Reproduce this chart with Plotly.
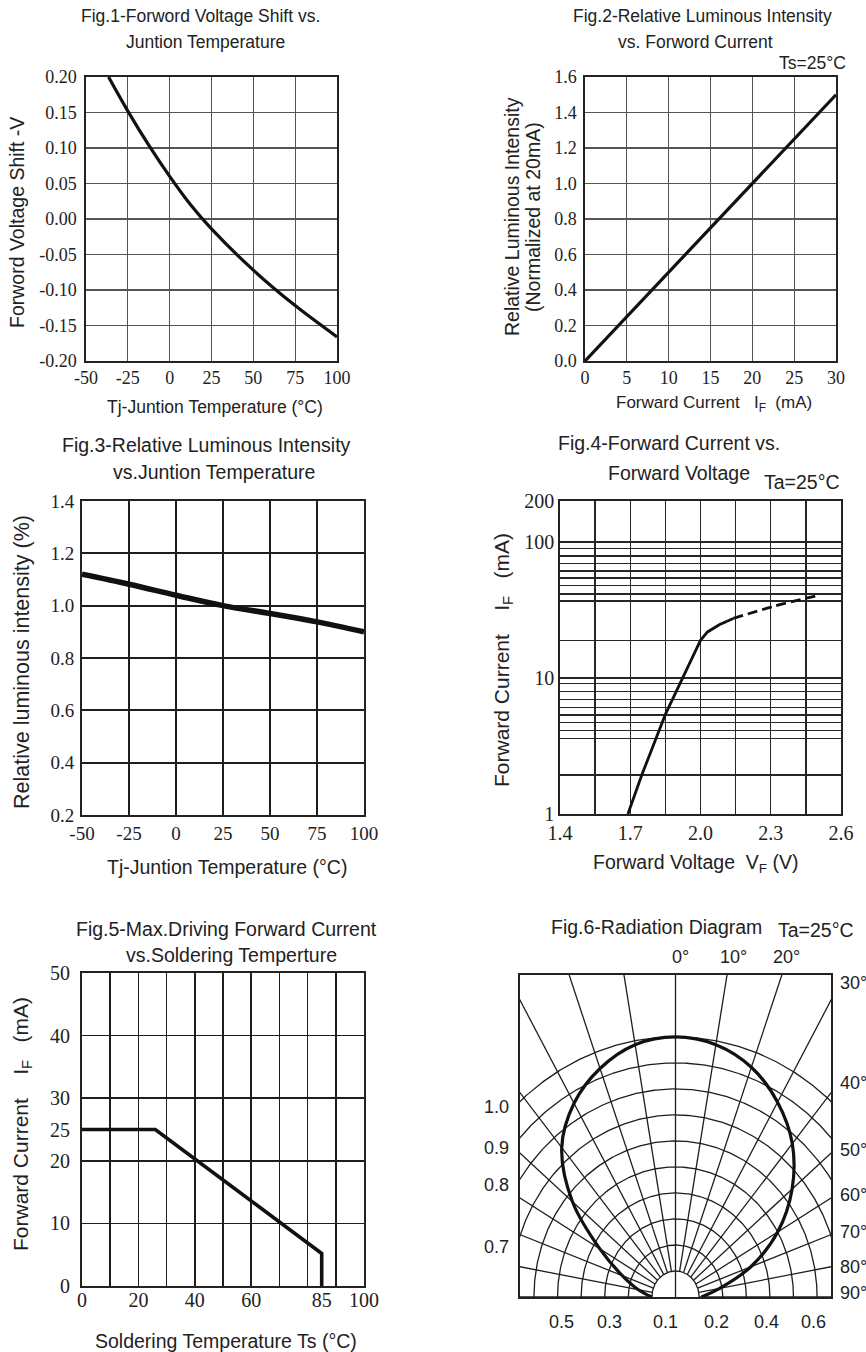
import numpy as np
import plotly.graph_objects as go

W, H = 866, 1352
SANS = "Liberation Sans, Arial, sans-serif"
SERIF = "Liberation Serif, Times New Roman, serif"
TXT = "#222222"
LINE = "#111111"

# ---------------- data ----------------
# Fig.1 forward voltage shift vs junction temperature
fig1_temp = [-36.5, -25, -12.5, 0, 12.5, 25, 50, 75, 100]
fig1_shift = [0.20, 0.152, 0.104, 0.06, 0.02, -0.014, -0.072, -0.122, -0.166]
fig1_xticks = [-50, -25, 0, 25, 50, 75, 100]
fig1_xtext = ["-50", "-25", "0", "25", "50", "75", "100"]
fig1_yticks = [0.20, 0.15, 0.10, 0.05, 0.00, -0.05, -0.10, -0.15, -0.20]
fig1_ytext = ["0.20", "0.15", "0.10", "0.05", "0.00", "-0.05", "-0.10", "-0.15", "-0.20"]

# Fig.2 relative luminous intensity vs forward current
fig2_current = [0, 30]
fig2_intensity = [0.0, 1.5]
fig2_xticks = [0, 5, 10, 15, 20, 25, 30]
fig2_yticks = [0.0, 0.2, 0.4, 0.6, 0.8, 1.0, 1.2, 1.4, 1.6]
fig2_ytext = ["0.0", "0.2", "0.4", "0.6", "0.8", "1.0", "1.2", "1.4", "1.6"]

# Fig.3 relative luminous intensity vs junction temperature
fig3_temp = [-50, -25, 0, 25, 50, 75, 100]
fig3_intensity = [1.12, 1.082, 1.04, 1.0, 0.97, 0.938, 0.90]
fig3_xticks = [-50, -25, 0, 25, 50, 75, 100]
fig3_xtext = ["-50", "-25", "0", "25", "50", "75", "100"]
fig3_yticks = [0.2, 0.4, 0.6, 0.8, 1.0, 1.2, 1.4]
fig3_ytext = ["0.2", "0.4", "0.6", "0.8", "1.0", "1.2", "1.4"]

# Fig.4 forward current vs forward voltage
fig4_v_solid = [1.69, 1.75, 1.85, 1.93, 1.975, 2.0, 2.03, 2.08, 2.14]
fig4_i_solid = [1.0, 1.95, 5.4, 10.5, 15.0, 18.9, 21.8, 24.6, 27.4]
fig4_v_dash = [2.14, 2.31, 2.49]
fig4_i_dash = [27.4, 33.5, 40.0]
fig4_xticks = [1.4, 1.7, 2.0, 2.3, 2.6]
fig4_xtext = ["1.4", "1.7", "2.0", "2.3", "2.6"]
fig4_xgrid_minor = [1.55, 1.85, 2.15, 2.45]
fig4_yticks = [1, 10, 100, 200]
fig4_ytext = ["1", "10", "100", "200"]
fig4_ygrid_minor = [1.93, 3.6, 4.13, 4.69, 5.33, 6.09, 6.93, 7.96, 9.14,
                    18.8, 36.7, 41.5, 47.7, 54.2, 61.2, 69.6, 78.7, 89.4]

# Fig.5 max driving forward current vs soldering temperature
fig5_temp = [0, 26, 85, 85]
fig5_current = [25, 25, 5.2, 0]
fig5_xticks = [0, 20, 40, 60, 85, 100]
fig5_xtext = ["0", "20", "40", "60", "85", "100"]
fig5_xgrid = [0, 10, 20, 30, 40, 50, 60, 70, 80, 90, 100]
fig5_yticks = [0, 10, 20, 25, 30, 40, 50]
fig5_ytext = ["0", "10", "20", "25", "30", "40", "50"]
fig5_ygrid = [0, 10, 20, 30, 40, 50]

# Fig.6 radiation diagram
fig6_angle = [-90, -80, -70, -60, -50, -40, -30, -20, -10, 0,
              10, 20, 30, 40, 50, 60, 70, 80, 90]
fig6_rel = [0.10, 0.16, 0.24, 0.37, 0.57, 0.75, 0.86, 0.935, 0.985, 1.0,
            0.985, 0.94, 0.865, 0.77, 0.645, 0.50, 0.34, 0.19, 0.11]
fig6_grid_radii = [0.1, 0.2, 0.3, 0.4, 0.5, 0.6, 0.7, 0.8, 0.9, 1.0]
fig6_grid_angles = [-90, -80, -70, -60, -50, -40, -30, -20, -10, 0,
                    10, 20, 30, 40, 50, 60, 70, 80, 90]
fig6_top_labels = ["0°", "10°", "20°"]
fig6_right_labels = ["30°", "40°", "50°", "60°", "70°", "80°", "90°"]
fig6_left_labels = ["1.0", "0.9", "0.8", "0.7"]
fig6_bottom_labels = ["0.5", "0.3", "0.1", "0.2", "0.4", "0.6"]

# ---------------- layout helpers ----------------
def dom(l, r, t, b):
    return [l / W, r / W], [1 - b / H, 1 - t / H]


def axis(domain, rng, anchor, tickvals=None, ticktext=None, size=18,
         grid=True, minor=None, typ="linear", labels=True, line=True,
         gcol="#3c3c3c", gw=1.2, lw=1.6, standoff=0):
    d = dict(domain=domain, range=rng, anchor=anchor, type=typ,
             automargin=False,
             showline=line, mirror=line, linecolor="#222222", linewidth=lw,
             ticks="", showgrid=grid, gridcolor=gcol, gridwidth=gw,
             zeroline=False, fixedrange=True, showticklabels=labels,
             ticklabelstandoff=standoff,
             tickfont=dict(family=SERIF, size=size, color=TXT))
    if tickvals is not None:
        d.update(tickmode="array", tickvals=tickvals)
        if ticktext is not None:
            d["ticktext"] = ticktext
    if minor is not None:
        d["minor"] = dict(tickmode="array", tickvals=minor, showgrid=True,
                          gridcolor=gcol, gridwidth=gw, ticks="")
    return d


annotations = []


def ann(text, px, py, size, xanchor="center", angle=0, family=SANS):
    annotations.append(dict(text=text, x=px / W, y=1 - py / H, xref="paper",
                            yref="paper", xanchor=xanchor, yanchor="middle",
                            showarrow=False, textangle=angle,
                            font=dict(family=family, size=size, color=TXT)))


NB = "\u00a0"
fig = go.Figure()
layout = dict(width=W, height=H, margin=dict(l=0, r=0, t=0, b=0, pad=0),
              paper_bgcolor="white", plot_bgcolor="rgba(0,0,0,0)",
              showlegend=False, autosize=False, template="none")

# ---- Fig.1 ----
xd, yd = dom(86, 337, 77, 361)
layout["xaxis"] = axis(xd, [-50, 100], "y", fig1_xticks, fig1_xtext, 18,
                       gcol="#555555")
layout["yaxis"] = axis(yd, [-0.2, 0.2], "x", fig1_yticks, fig1_ytext, 18,
                       gcol="#555555", standoff=4)
fig.add_trace(go.Scatter(x=fig1_temp, y=fig1_shift, mode="lines",
                         line=dict(color=LINE, width=3.2, shape="spline"),
                         xaxis="x", yaxis="y"))
ann("Fig.1-Forword Voltage Shift vs.", 200, 16, 17.5)
ann("Juntion Temperature", 205, 42, 17.5)
ann("Tj-Juntion Temperature (°C)", 215, 407, 17.5)
ann("Forword Voltage Shift -V", 17, 223, 19.5, angle=-90)

# ---- Fig.2 ----
xd, yd = dom(585, 836, 77, 361)
layout["xaxis2"] = axis(xd, [0, 30], "y2", fig2_xticks, None, 18,
                        gcol="#555555")
layout["yaxis2"] = axis(yd, [0, 1.6], "x2", fig2_yticks, fig2_ytext, 18,
                        gcol="#555555", standoff=3)
fig.add_trace(go.Scatter(x=fig2_current, y=fig2_intensity, mode="lines",
                         line=dict(color=LINE, width=3.2),
                         xaxis="x2", yaxis="y2"))
ann("Fig.2-Relative Luminous Intensity", 702, 16, 17.5)
ann("vs. Forword Current", 695, 42, 17.5)
ann("Ts=25°C", 812, 63, 17.5)
ann("Relative Luminous Intensity", 512, 217, 19.5, angle=-90)
ann("(Normalized at 20mA)", 533, 217, 19.5, angle=-90)
ann("Forward Current" + NB * 2 + " I<sub>F</sub>" + NB + " (mA)", 714, 404, 17)

# ---- Fig.3 ----
xd, yd = dom(82, 364, 501, 815)
layout["xaxis3"] = axis(xd, [-50, 100], "y3", fig3_xticks, fig3_xtext, 19,
                        gcol="#1e1e1e", gw=1.7, lw=2)
layout["yaxis3"] = axis(yd, [0.2, 1.4], "x3", fig3_yticks, fig3_ytext, 19,
                        gcol="#1e1e1e", gw=1.7, lw=2, standoff=2)
fig.add_trace(go.Scatter(x=fig3_temp, y=fig3_intensity, mode="lines",
                         line=dict(color=LINE, width=5.5, shape="spline"),
                         xaxis="x3", yaxis="y3"))
ann("Fig.3-Relative Luminous Intensity", 206, 445, 19.5)
ann("vs.Juntion Temperature", 214, 472, 19.5)
ann("Tj-Juntion Temperature (°C)", 227, 867, 19.5)
ann("Relative luminous intensity (%)", 22, 662, 21.5, angle=-90)

# ---- Fig.4 ----
xd, yd = dom(560, 841, 501, 814)
layout["xaxis4"] = axis(xd, [1.4, 2.6], "y4", fig4_xticks, fig4_xtext, 20,
                        minor=fig4_xgrid_minor, gcol="#262626", gw=1.4,
                        lw=1.8)
layout["yaxis4"] = axis(yd, [0, np.log10(200)], "x4", fig4_yticks,
                        fig4_ytext, 20, minor=fig4_ygrid_minor, typ="log",
                        gcol="#262626", gw=1.4, lw=1.8)
fig.add_trace(go.Scatter(x=fig4_v_solid, y=fig4_i_solid, mode="lines",
                         line=dict(color=LINE, width=2.8),
                         xaxis="x4", yaxis="y4"))
fig.add_trace(go.Scatter(x=fig4_v_dash, y=fig4_i_dash, mode="lines",
                         line=dict(color=LINE, width=2.8, dash="10px,5px",
                                   shape="spline"),
                         xaxis="x4", yaxis="y4"))
ann("Fig.4-Forward Current vs.", 669, 443, 19.5)
ann("Forward Voltage", 679, 473, 19.5)
ann("Ta=25°C", 802, 482, 19.5)
ann("Forward Voltage" + NB + " V<sub>F</sub> (V)", 696, 863, 19.5)
ann("Forward Current" + NB * 3 + " I<sub>F</sub>" + NB * 2 + " (mA)", 503, 660,
    21, angle=-90)

# ---- Fig.5 (grid subplot + stacked label subplot) ----
xd, yd = dom(82, 364, 973, 1286)
layout["xaxis5"] = axis(xd, [0, 100], "y5", fig5_xgrid, None, 20,
                        labels=False, gcol="#1e1e1e", gw=1.7, lw=2)
layout["yaxis5"] = axis(yd, [0, 50], "x5", fig5_ygrid, None, 20,
                        labels=False, gcol="#1e1e1e", gw=1.7, lw=2)
layout["xaxis7"] = axis(xd, [0, 100], "y7", fig5_xticks, fig5_xtext, 20,
                        grid=False, line=False)
layout["yaxis7"] = axis(yd, [0, 50], "x7", fig5_yticks, fig5_ytext, 20,
                        grid=False, line=False, standoff=11)
fig.add_trace(go.Scatter(x=[None], y=[None], mode="lines",
                         xaxis="x5", yaxis="y5"))
fig.add_trace(go.Scatter(x=fig5_temp, y=fig5_current, mode="lines",
                         line=dict(color=LINE, width=3.6),
                         xaxis="x7", yaxis="y7"))
ann("Fig.5-Max.Driving Forward Current", 226, 929, 19.5)
ann("vs.Soldering Temperture", 231, 955, 19.5)
ann("Soldering Temperature Ts (°C)", 226, 1341, 19.5)
ann("Forward Current" + NB * 3 + " I<sub>F</sub>" + NB * 2 + " (mA)", 22, 1124,
    21, angle=-90)

# ---- Fig.6 ----
xd, yd = dom(520, 831, 975, 1297)
layout["xaxis6"] = axis(xd, [-0.659, 0.659], "y6", [], None, 18, grid=False,
                        labels=False)
layout["yaxis6"] = axis(yd, [0, 1.238], "x6", [], None, 18, grid=False,
                        labels=False)
th = np.radians(np.linspace(-90, 90, 361))
for r in fig6_grid_radii:
    fig.add_trace(go.Scatter(x=r * np.sin(th), y=r * np.cos(th), mode="lines",
                             line=dict(color="#1e1e1e", width=1.3),
                             xaxis="x6", yaxis="y6"))
for a in fig6_grid_angles:
    ar = np.radians(a)
    r0 = 0.0 if a == 0 else fig6_grid_radii[0]
    fig.add_trace(go.Scatter(x=[r0 * np.sin(ar), 3 * np.sin(ar)],
                             y=[r0 * np.cos(ar), 3 * np.cos(ar)], mode="lines",
                             line=dict(color="#1e1e1e", width=1.3),
                             xaxis="x6", yaxis="y6"))
ang = np.radians(np.array(fig6_angle, dtype=float))
rel = np.array(fig6_rel)
fig.add_trace(go.Scatter(x=rel * np.sin(ang), y=rel * np.cos(ang),
                         mode="lines",
                         line=dict(color=LINE, width=3.2, shape="spline"),
                         xaxis="x6", yaxis="y6"))
ann("Fig.6-Radiation Diagram", 656, 927, 19.5)
ann("Ta=25°C", 816, 930, 19.5)
for t, px in zip(fig6_top_labels, [680, 733, 786]):
    ann(t, px, 957, 18)
for t, py in zip(fig6_right_labels, [983, 1083, 1150, 1195, 1232, 1267, 1293]):
    ann(t, 838, py, 18, xanchor="left")
for t, py in zip(fig6_left_labels, [1107, 1148, 1185, 1247]):
    ann(t, 511, py, 18, xanchor="right")
for t, px in zip(fig6_bottom_labels, [561, 609, 665, 716, 766, 813]):
    ann(t, px, 1322, 18)

layout["annotations"] = annotations
fig.update_layout(**layout)
fig.update_traces(hoverinfo="skip")
fig.write_html("out.html",
               config={"displayModeBar": False, "staticPlot": True},
               post_script="document.body.style.margin='0px';"
                           "document.body.style.overflow='hidden';")
